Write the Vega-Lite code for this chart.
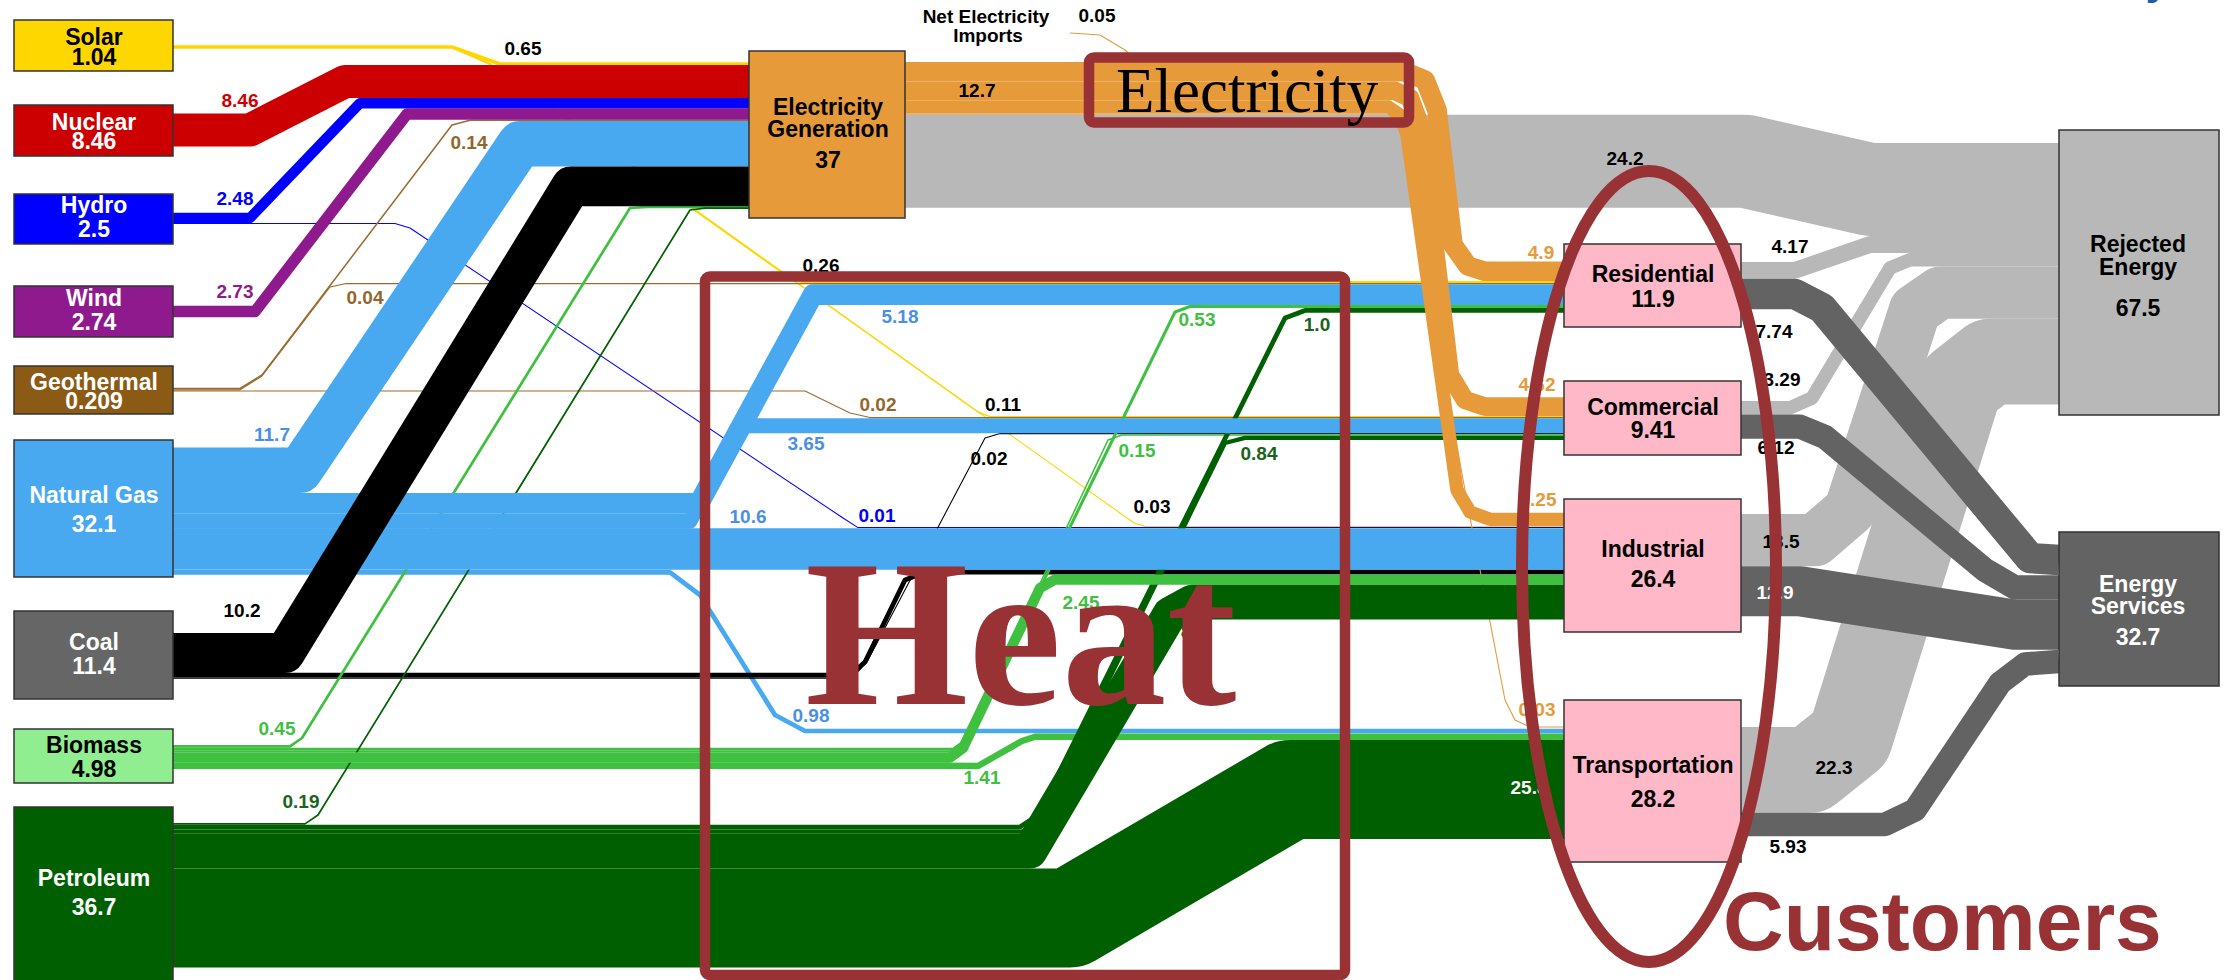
{
  "$schema": "https://vega.github.io/schema/vega-lite/v6.json",
  "width": 2224,
  "height": 980,
  "padding": 0,
  "autosize": {"type": "none"},
  "background": "#FFFFFF",
  "config": {"view": {"stroke": null}},
  "datasets": {
    "flows": [
      {"f":"F01","c":"Solar","v":0.65,"i":0,"x":173,"y":47},{"f":"F01","c":"Solar","v":0.65,"i":1,"x":452,"y":47},{"f":"F01","c":"Solar","v":0.65,"i":2,"x":500,"y":64},{"f":"F01","c":"Solar","v":0.65,"i":3,"x":749,"y":64},
      {"f":"F02","c":"Solar","v":0.26,"i":0,"x":173,"y":47},{"f":"F02","c":"Solar","v":0.26,"i":1,"x":452,"y":47},{"f":"F02","c":"Solar","v":0.26,"i":2,"x":490,"y":64},{"f":"F02","c":"Solar","v":0.26,"i":3,"x":790,"y":278},{"f":"F02","c":"Solar","v":0.26,"i":4,"x":802,"y":282.1},{"f":"F02","c":"Solar","v":0.26,"i":5,"x":1564,"y":282.1},
      {"f":"F03","c":"Solar","v":0.11,"i":0,"x":173,"y":47},{"f":"F03","c":"Solar","v":0.11,"i":1,"x":452,"y":47},{"f":"F03","c":"Solar","v":0.11,"i":2,"x":490,"y":64},{"f":"F03","c":"Solar","v":0.11,"i":3,"x":978,"y":412},{"f":"F03","c":"Solar","v":0.11,"i":4,"x":990,"y":416.6},{"f":"F03","c":"Solar","v":0.11,"i":5,"x":1564,"y":416.6},
      {"f":"F04","c":"Solar","v":0.03,"i":0,"x":173,"y":47},{"f":"F04","c":"Solar","v":0.03,"i":1,"x":452,"y":47},{"f":"F04","c":"Solar","v":0.03,"i":2,"x":490,"y":64},{"f":"F04","c":"Solar","v":0.03,"i":3,"x":1134,"y":523},{"f":"F04","c":"Solar","v":0.03,"i":4,"x":1146,"y":526.6},{"f":"F04","c":"Solar","v":0.03,"i":5,"x":1564,"y":526.6},
      {"f":"F05","c":"Nuclear","v":8.46,"i":0,"x":173,"y":130},{"f":"F05","c":"Nuclear","v":8.46,"i":1,"x":250,"y":130},{"f":"F05","c":"Nuclear","v":8.46,"i":2,"x":345,"y":81.5},{"f":"F05","c":"Nuclear","v":8.46,"i":3,"x":749,"y":81.5},
      {"f":"F06","c":"Hydro","v":2.48,"i":0,"x":173,"y":218},{"f":"F06","c":"Hydro","v":2.48,"i":1,"x":250,"y":218},{"f":"F06","c":"Hydro","v":2.48,"i":2,"x":360,"y":103.2},{"f":"F06","c":"Hydro","v":2.48,"i":3,"x":749,"y":103.2},
      {"f":"F07","c":"Hydro","v":0.01,"i":0,"x":173,"y":223.5},{"f":"F07","c":"Hydro","v":0.01,"i":1,"x":395,"y":223.5},{"f":"F07","c":"Hydro","v":0.01,"i":2,"x":410,"y":228},{"f":"F07","c":"Hydro","v":0.01,"i":3,"x":843,"y":518},{"f":"F07","c":"Hydro","v":0.01,"i":4,"x":858,"y":527.6},{"f":"F07","c":"Hydro","v":0.01,"i":5,"x":1564,"y":527.6},
      {"f":"F08","c":"Wind","v":2.73,"i":0,"x":173,"y":311.5},{"f":"F08","c":"Wind","v":2.73,"i":1,"x":255,"y":311.5},{"f":"F08","c":"Wind","v":2.73,"i":2,"x":407,"y":114},{"f":"F08","c":"Wind","v":2.73,"i":3,"x":749,"y":114},
      {"f":"F09","c":"Geothermal","v":0.14,"i":0,"x":173,"y":388.5},{"f":"F09","c":"Geothermal","v":0.14,"i":1,"x":240,"y":388.5},{"f":"F09","c":"Geothermal","v":0.14,"i":2,"x":262,"y":375},{"f":"F09","c":"Geothermal","v":0.14,"i":3,"x":452,"y":125},{"f":"F09","c":"Geothermal","v":0.14,"i":4,"x":470,"y":120.3},{"f":"F09","c":"Geothermal","v":0.14,"i":5,"x":749,"y":120.3},
      {"f":"F10","c":"Geothermal","v":0.04,"i":0,"x":173,"y":389.8},{"f":"F10","c":"Geothermal","v":0.04,"i":1,"x":240,"y":389.8},{"f":"F10","c":"Geothermal","v":0.04,"i":2,"x":262,"y":376},{"f":"F10","c":"Geothermal","v":0.04,"i":3,"x":330,"y":287},{"f":"F10","c":"Geothermal","v":0.04,"i":4,"x":345,"y":283.7},{"f":"F10","c":"Geothermal","v":0.04,"i":5,"x":1564,"y":283.7},
      {"f":"F11","c":"Geothermal","v":0.02,"i":0,"x":173,"y":391},{"f":"F11","c":"Geothermal","v":0.02,"i":1,"x":805,"y":391},{"f":"F11","c":"Geothermal","v":0.02,"i":2,"x":850,"y":413},{"f":"F11","c":"Geothermal","v":0.02,"i":3,"x":870,"y":417.6},{"f":"F11","c":"Geothermal","v":0.02,"i":4,"x":1564,"y":417.6},
      {"f":"F12","c":"Natural Gas","v":11.7,"i":0,"x":173,"y":470.3},{"f":"F12","c":"Natural Gas","v":11.7,"i":1,"x":300,"y":470.3},{"f":"F12","c":"Natural Gas","v":11.7,"i":2,"x":520,"y":143.8},{"f":"F12","c":"Natural Gas","v":11.7,"i":3,"x":749,"y":143.8},
      {"f":"F13","c":"Natural Gas","v":5.18,"i":0,"x":173,"y":503.4},{"f":"F13","c":"Natural Gas","v":5.18,"i":1,"x":699,"y":503.4},{"f":"F13","c":"Natural Gas","v":5.18,"i":2,"x":813,"y":294.6},{"f":"F13","c":"Natural Gas","v":5.18,"i":3,"x":1564,"y":294.6},
      {"f":"F14","c":"Natural Gas","v":3.65,"i":0,"x":173,"y":521.2},{"f":"F14","c":"Natural Gas","v":3.65,"i":1,"x":690,"y":521.2},{"f":"F14","c":"Natural Gas","v":3.65,"i":2,"x":742,"y":425.7},{"f":"F14","c":"Natural Gas","v":3.65,"i":3,"x":1564,"y":425.7},
      {"f":"F15","c":"Natural Gas","v":10.6,"i":0,"x":173,"y":549},{"f":"F15","c":"Natural Gas","v":10.6,"i":1,"x":1564,"y":549},
      {"f":"F16","c":"Natural Gas","v":0.98,"i":0,"x":173,"y":572.3},{"f":"F16","c":"Natural Gas","v":0.98,"i":1,"x":670,"y":572.3},{"f":"F16","c":"Natural Gas","v":0.98,"i":2,"x":700,"y":595},{"f":"F16","c":"Natural Gas","v":0.98,"i":3,"x":775,"y":715},{"f":"F16","c":"Natural Gas","v":0.98,"i":4,"x":805,"y":731},{"f":"F16","c":"Natural Gas","v":0.98,"i":5,"x":1564,"y":731},
      {"f":"F17","c":"Coal","v":10.2,"i":0,"x":173,"y":653},{"f":"F17","c":"Coal","v":10.2,"i":1,"x":285,"y":653},{"f":"F17","c":"Coal","v":10.2,"i":2,"x":571,"y":186.4},{"f":"F17","c":"Coal","v":10.2,"i":3,"x":749,"y":186.4},
      {"f":"F18","c":"Coal","v":1.0,"i":0,"x":173,"y":675.2},{"f":"F18","c":"Coal","v":1.0,"i":1,"x":850,"y":675.2},{"f":"F18","c":"Coal","v":1.0,"i":2,"x":865,"y":662},{"f":"F18","c":"Coal","v":1.0,"i":3,"x":905,"y":580},{"f":"F18","c":"Coal","v":1.0,"i":4,"x":925,"y":572},{"f":"F18","c":"Coal","v":1.0,"i":5,"x":1564,"y":572},
      {"f":"F19","c":"Coal","v":0.02,"i":0,"x":173,"y":678.1},{"f":"F19","c":"Coal","v":0.02,"i":1,"x":852,"y":678.1},{"f":"F19","c":"Coal","v":0.02,"i":2,"x":867,"y":662},{"f":"F19","c":"Coal","v":0.02,"i":3,"x":985,"y":438},{"f":"F19","c":"Coal","v":0.02,"i":4,"x":1000,"y":433.6},{"f":"F19","c":"Coal","v":0.02,"i":5,"x":1564,"y":433.6},
      {"f":"F20","c":"Biomass","v":0.45,"i":0,"x":173,"y":746.4},{"f":"F20","c":"Biomass","v":0.45,"i":1,"x":290,"y":746.4},{"f":"F20","c":"Biomass","v":0.45,"i":2,"x":302,"y":738},{"f":"F20","c":"Biomass","v":0.45,"i":3,"x":630,"y":208},{"f":"F20","c":"Biomass","v":0.45,"i":4,"x":648,"y":206.8},{"f":"F20","c":"Biomass","v":0.45,"i":5,"x":749,"y":206.8},
      {"f":"F21","c":"Biomass","v":0.53,"i":0,"x":173,"y":749.2},{"f":"F21","c":"Biomass","v":0.53,"i":1,"x":953,"y":749.2},{"f":"F21","c":"Biomass","v":0.53,"i":2,"x":966,"y":740},{"f":"F21","c":"Biomass","v":0.53,"i":3,"x":1175,"y":312},{"f":"F21","c":"Biomass","v":0.53,"i":4,"x":1190,"y":306.5},{"f":"F21","c":"Biomass","v":0.53,"i":5,"x":1564,"y":306.5},
      {"f":"F22","c":"Biomass","v":0.15,"i":0,"x":173,"y":751.5},{"f":"F22","c":"Biomass","v":0.15,"i":1,"x":952,"y":751.5},{"f":"F22","c":"Biomass","v":0.15,"i":2,"x":965,"y":742},{"f":"F22","c":"Biomass","v":0.15,"i":3,"x":1108,"y":440},{"f":"F22","c":"Biomass","v":0.15,"i":4,"x":1122,"y":435},{"f":"F22","c":"Biomass","v":0.15,"i":5,"x":1564,"y":435},
      {"f":"F23","c":"Biomass","v":2.45,"i":0,"x":173,"y":757.5},{"f":"F23","c":"Biomass","v":2.45,"i":1,"x":950,"y":757.5},{"f":"F23","c":"Biomass","v":2.45,"i":2,"x":963,"y":748},{"f":"F23","c":"Biomass","v":2.45,"i":3,"x":1040,"y":588},{"f":"F23","c":"Biomass","v":2.45,"i":4,"x":1055,"y":579.6},{"f":"F23","c":"Biomass","v":2.45,"i":5,"x":1564,"y":579.6},
      {"f":"F24","c":"Biomass","v":1.41,"i":0,"x":173,"y":765.8},{"f":"F24","c":"Biomass","v":1.41,"i":1,"x":940,"y":765.8},{"f":"F24","c":"Biomass","v":1.41,"i":2,"x":978,"y":766},{"f":"F24","c":"Biomass","v":1.41,"i":3,"x":1022,"y":741},{"f":"F24","c":"Biomass","v":1.41,"i":4,"x":1035,"y":736.7},{"f":"F24","c":"Biomass","v":1.41,"i":5,"x":1564,"y":736.7},
      {"f":"F25","c":"Petroleum","v":0.19,"i":0,"x":173,"y":823.9},{"f":"F25","c":"Petroleum","v":0.19,"i":1,"x":305,"y":823.9},{"f":"F25","c":"Petroleum","v":0.19,"i":2,"x":318,"y":815},{"f":"F25","c":"Petroleum","v":0.19,"i":3,"x":690,"y":210},{"f":"F25","c":"Petroleum","v":0.19,"i":4,"x":705,"y":208.2},{"f":"F25","c":"Petroleum","v":0.19,"i":5,"x":749,"y":208.2},
      {"f":"F26","c":"Petroleum","v":1.0,"i":0,"x":173,"y":827.1},{"f":"F26","c":"Petroleum","v":1.0,"i":1,"x":1020,"y":827.1},{"f":"F26","c":"Petroleum","v":1.0,"i":2,"x":1038,"y":815},{"f":"F26","c":"Petroleum","v":1.0,"i":3,"x":1285,"y":318},{"f":"F26","c":"Petroleum","v":1.0,"i":4,"x":1305,"y":310.4},{"f":"F26","c":"Petroleum","v":1.0,"i":5,"x":1564,"y":310.4},
      {"f":"F27","c":"Petroleum","v":0.84,"i":0,"x":173,"y":831.6},{"f":"F27","c":"Petroleum","v":0.84,"i":1,"x":1022,"y":831.6},{"f":"F27","c":"Petroleum","v":0.84,"i":2,"x":1040,"y":820},{"f":"F27","c":"Petroleum","v":0.84,"i":3,"x":1225,"y":443},{"f":"F27","c":"Petroleum","v":0.84,"i":4,"x":1245,"y":437.9},{"f":"F27","c":"Petroleum","v":0.84,"i":5,"x":1564,"y":437.9},
      {"f":"F28","c":"Petroleum","v":8.9,"i":0,"x":173,"y":851.1},{"f":"F28","c":"Petroleum","v":8.9,"i":1,"x":1030,"y":851.1},{"f":"F28","c":"Petroleum","v":8.9,"i":2,"x":1170,"y":614},{"f":"F28","c":"Petroleum","v":8.9,"i":3,"x":1192,"y":602.2},{"f":"F28","c":"Petroleum","v":8.9,"i":4,"x":1564,"y":602.2},
      {"f":"F29","c":"Petroleum","v":25.8,"i":0,"x":173,"y":918},{"f":"F29","c":"Petroleum","v":25.8,"i":1,"x":1070,"y":918},{"f":"F29","c":"Petroleum","v":25.8,"i":2,"x":1290,"y":789.5},{"f":"F29","c":"Petroleum","v":25.8,"i":3,"x":1564,"y":789.5},
      {"f":"F30","c":"Electricity","v":4.9,"i":0,"x":905,"y":71.8},{"f":"F30","c":"Electricity","v":4.9,"i":1,"x":1405,"y":71.8},{"f":"F30","c":"Electricity","v":4.9,"i":2,"x":1425,"y":80},{"f":"F30","c":"Electricity","v":4.9,"i":3,"x":1437,"y":110},{"f":"F30","c":"Electricity","v":4.9,"i":4,"x":1453,"y":245},{"f":"F30","c":"Electricity","v":4.9,"i":5,"x":1468,"y":266},{"f":"F30","c":"Electricity","v":4.9,"i":6,"x":1485,"y":271.3},{"f":"F30","c":"Electricity","v":4.9,"i":7,"x":1564,"y":271.3},
      {"f":"F31","c":"Electricity","v":4.62,"i":0,"x":905,"y":90.9},{"f":"F31","c":"Electricity","v":4.62,"i":1,"x":1395,"y":90.9},{"f":"F31","c":"Electricity","v":4.62,"i":2,"x":1410,"y":98},{"f":"F31","c":"Electricity","v":4.62,"i":3,"x":1420,"y":125},{"f":"F31","c":"Electricity","v":4.62,"i":4,"x":1450,"y":375},{"f":"F31","c":"Electricity","v":4.62,"i":5,"x":1465,"y":400},{"f":"F31","c":"Electricity","v":4.62,"i":6,"x":1485,"y":406.6},{"f":"F31","c":"Electricity","v":4.62,"i":7,"x":1564,"y":406.6},
      {"f":"F32","c":"Electricity","v":3.25,"i":0,"x":905,"y":106.9},{"f":"F32","c":"Electricity","v":3.25,"i":1,"x":1388,"y":106.9},{"f":"F32","c":"Electricity","v":3.25,"i":2,"x":1400,"y":115},{"f":"F32","c":"Electricity","v":3.25,"i":3,"x":1407,"y":135},{"f":"F32","c":"Electricity","v":3.25,"i":4,"x":1457,"y":490},{"f":"F32","c":"Electricity","v":3.25,"i":5,"x":1470,"y":512},{"f":"F32","c":"Electricity","v":3.25,"i":6,"x":1490,"y":519.3},{"f":"F32","c":"Electricity","v":3.25,"i":7,"x":1564,"y":519.3},
      {"f":"F33","c":"Electricity","v":0.03,"i":0,"x":905,"y":114.1},{"f":"F33","c":"Electricity","v":0.03,"i":1,"x":1385,"y":114.1},{"f":"F33","c":"Electricity","v":0.03,"i":2,"x":1396,"y":122},{"f":"F33","c":"Electricity","v":0.03,"i":3,"x":1402,"y":140},{"f":"F33","c":"Electricity","v":0.03,"i":4,"x":1468,"y":507},{"f":"F33","c":"Electricity","v":0.03,"i":5,"x":1505,"y":700},{"f":"F33","c":"Electricity","v":0.03,"i":6,"x":1515,"y":720},{"f":"F33","c":"Electricity","v":0.03,"i":7,"x":1530,"y":727},{"f":"F33","c":"Electricity","v":0.03,"i":8,"x":1564,"y":727},
      {"f":"F34","c":"Electricity","v":0.05,"i":0,"x":1070,"y":33},{"f":"F34","c":"Electricity","v":0.05,"i":1,"x":1100,"y":35},{"f":"F34","c":"Electricity","v":0.05,"i":2,"x":1125,"y":50},{"f":"F34","c":"Electricity","v":0.05,"i":3,"x":1140,"y":64},
      {"f":"F35","c":"Rejected Energy","v":24.2,"i":0,"x":905,"y":161.2},{"f":"F35","c":"Rejected Energy","v":24.2,"i":1,"x":1745,"y":161.2},{"f":"F35","c":"Rejected Energy","v":24.2,"i":2,"x":1870,"y":189.5},{"f":"F35","c":"Rejected Energy","v":24.2,"i":3,"x":2059,"y":189.5},
      {"f":"F36","c":"Rejected Energy","v":4.17,"i":0,"x":1741,"y":270.4},{"f":"F36","c":"Rejected Energy","v":4.17,"i":1,"x":1795,"y":270.4},{"f":"F36","c":"Rejected Energy","v":4.17,"i":2,"x":1870,"y":244.5},{"f":"F36","c":"Rejected Energy","v":4.17,"i":3,"x":2059,"y":244.5},
      {"f":"F37","c":"Rejected Energy","v":3.29,"i":0,"x":1741,"y":407.8},{"f":"F37","c":"Rejected Energy","v":3.29,"i":1,"x":1790,"y":407.8},{"f":"F37","c":"Rejected Energy","v":3.29,"i":2,"x":1812,"y":398},{"f":"F37","c":"Rejected Energy","v":3.29,"i":3,"x":1890,"y":268},{"f":"F37","c":"Rejected Energy","v":3.29,"i":4,"x":1910,"y":259.7},{"f":"F37","c":"Rejected Energy","v":3.29,"i":5,"x":2059,"y":259.7},
      {"f":"F38","c":"Rejected Energy","v":13.5,"i":0,"x":1741,"y":540.2},{"f":"F38","c":"Rejected Energy","v":13.5,"i":1,"x":1815,"y":540.2},{"f":"F38","c":"Rejected Energy","v":13.5,"i":2,"x":1850,"y":510},{"f":"F38","c":"Rejected Energy","v":13.5,"i":3,"x":1915,"y":310},{"f":"F38","c":"Rejected Energy","v":13.5,"i":4,"x":1940,"y":292.6},{"f":"F38","c":"Rejected Energy","v":13.5,"i":5,"x":2059,"y":292.6},
      {"f":"F39","c":"Rejected Energy","v":22.3,"i":0,"x":1741,"y":769.9},{"f":"F39","c":"Rejected Energy","v":22.3,"i":1,"x":1810,"y":769.9},{"f":"F39","c":"Rejected Energy","v":22.3,"i":2,"x":1850,"y":738},{"f":"F39","c":"Rejected Energy","v":22.3,"i":3,"x":1960,"y":385},{"f":"F39","c":"Rejected Energy","v":22.3,"i":4,"x":1990,"y":361.6},{"f":"F39","c":"Rejected Energy","v":22.3,"i":5,"x":2059,"y":361.6},
      {"f":"F40","c":"Energy Services","v":7.74,"i":0,"x":1741,"y":294},{"f":"F40","c":"Energy Services","v":7.74,"i":1,"x":1795,"y":294},{"f":"F40","c":"Energy Services","v":7.74,"i":2,"x":1822,"y":308},{"f":"F40","c":"Energy Services","v":7.74,"i":3,"x":2005,"y":528},{"f":"F40","c":"Energy Services","v":7.74,"i":4,"x":2030,"y":558},{"f":"F40","c":"Energy Services","v":7.74,"i":5,"x":2059,"y":560},
      {"f":"F41","c":"Energy Services","v":6.12,"i":0,"x":1741,"y":426.6},{"f":"F41","c":"Energy Services","v":6.12,"i":1,"x":1800,"y":426.6},{"f":"F41","c":"Energy Services","v":6.12,"i":2,"x":1825,"y":437},{"f":"F41","c":"Energy Services","v":6.12,"i":3,"x":1985,"y":570},{"f":"F41","c":"Energy Services","v":6.12,"i":4,"x":2015,"y":587.5},{"f":"F41","c":"Energy Services","v":6.12,"i":5,"x":2059,"y":587.5},
      {"f":"F42","c":"Energy Services","v":12.9,"i":0,"x":1741,"y":591.3},{"f":"F42","c":"Energy Services","v":12.9,"i":1,"x":1800,"y":591.3},{"f":"F42","c":"Energy Services","v":12.9,"i":2,"x":2015,"y":624.7},{"f":"F42","c":"Energy Services","v":12.9,"i":3,"x":2059,"y":624.7},
      {"f":"F43","c":"Energy Services","v":5.93,"i":0,"x":1741,"y":824.4},{"f":"F43","c":"Energy Services","v":5.93,"i":1,"x":1885,"y":824.4},{"f":"F43","c":"Energy Services","v":5.93,"i":2,"x":1915,"y":810},{"f":"F43","c":"Energy Services","v":5.93,"i":3,"x":2000,"y":683},{"f":"F43","c":"Energy Services","v":5.93,"i":4,"x":2025,"y":664},{"f":"F43","c":"Energy Services","v":5.93,"i":5,"x":2059,"y":661.5}
    ],
    "nodes": [
      {"n":"Solar","x":14,"xe":173,"y":20,"ye":71},
      {"n":"Nuclear","x":14,"xe":173,"y":105,"ye":156},
      {"n":"Hydro","x":14,"xe":173,"y":194,"ye":244},
      {"n":"Wind","x":14,"xe":173,"y":286,"ye":337},
      {"n":"Geothermal","x":14,"xe":173,"y":366,"ye":414},
      {"n":"Natural Gas","x":14,"xe":173,"y":440,"ye":577},
      {"n":"Coal","x":14,"xe":173,"y":611,"ye":699},
      {"n":"Biomass","x":14,"xe":173,"y":729,"ye":783},
      {"n":"Petroleum","x":14,"xe":173,"y":807,"ye":990},
      {"n":"Electricity Generation","x":749,"xe":905,"y":51,"ye":218},
      {"n":"Residential","x":1564,"xe":1741,"y":244,"ye":327},
      {"n":"Commercial","x":1564,"xe":1741,"y":381,"ye":455},
      {"n":"Industrial","x":1564,"xe":1741,"y":499,"ye":632},
      {"n":"Transportation","x":1564,"xe":1741,"y":700,"ye":862},
      {"n":"Rejected Energy","x":2059,"xe":2219,"y":130,"ye":415},
      {"n":"Energy Services","x":2059,"xe":2219,"y":532,"ye":686}
    ],
    "flowLabels": [
      {"t":"0.65","x":523,"y":49,"c":"Solar"},
      {"t":"8.46","x":240,"y":101,"c":"Nuclear"},
      {"t":"2.48","x":235,"y":199,"c":"Hydro"},
      {"t":"2.73","x":235,"y":292,"c":"Wind"},
      {"t":"0.14","x":469,"y":143,"c":"Geothermal"},
      {"t":"0.04","x":365,"y":298,"c":"Geothermal"},
      {"t":"11.7","x":272,"y":435,"c":"Natural Gas"},
      {"t":"10.2","x":242,"y":611,"c":"Coal"},
      {"t":"0.45","x":277,"y":729,"c":"Biomass"},
      {"t":"0.19","x":301,"y":802,"c":"Petroleum"},
      {"t":"12.7","x":977,"y":91,"c":"Electricity Generation"},
      {"t":"0.05","x":1097,"y":16,"c":"Electricity Generation"},
      {"t":"24.2","x":1625,"y":159,"c":"Electricity Generation"},
      {"t":"0.26","x":821,"y":266,"c":"Solar"},
      {"t":"5.18","x":900,"y":317,"c":"Natural Gas"},
      {"t":"0.53","x":1197,"y":320,"c":"Biomass"},
      {"t":"1.0","x":1317,"y":325,"c":"Petroleum"},
      {"t":"0.02","x":878,"y":405,"c":"Geothermal"},
      {"t":"0.11","x":1003,"y":405,"c":"Solar"},
      {"t":"3.65","x":806,"y":444,"c":"Natural Gas"},
      {"t":"0.02","x":989,"y":459,"c":"Coal"},
      {"t":"0.15","x":1137,"y":451,"c":"Biomass"},
      {"t":"0.84","x":1259,"y":454,"c":"Petroleum"},
      {"t":"10.6","x":748,"y":517,"c":"Natural Gas"},
      {"t":"0.01","x":877,"y":516,"c":"Hydro"},
      {"t":"0.03","x":1152,"y":507,"c":"Solar"},
      {"t":"2.45","x":1081,"y":603,"c":"Biomass"},
      {"t":"8.9","x":1194,"y":632,"c":"Petroleum"},
      {"t":"0.98","x":811,"y":716,"c":"Natural Gas"},
      {"t":"1.41","x":982,"y":778,"c":"Biomass"},
      {"t":"25.8","x":1529,"y":788,"c":"Petroleum"},
      {"t":"4.9","x":1541,"y":253,"c":"Electricity"},
      {"t":"4.62","x":1537,"y":385,"c":"Electricity"},
      {"t":"3.25","x":1538,"y":500,"c":"Electricity"},
      {"t":"0.03","x":1537,"y":710,"c":"Electricity"},
      {"t":"4.17","x":1790,"y":247,"c":"Rejected Energy"},
      {"t":"7.74","x":1774,"y":332,"c":"Energy Services"},
      {"t":"3.29","x":1782,"y":380,"c":"Rejected Energy"},
      {"t":"6.12","x":1776,"y":448,"c":"Energy Services"},
      {"t":"13.5","x":1781,"y":542,"c":"Rejected Energy"},
      {"t":"12.9","x":1775,"y":593,"c":"Energy Services"},
      {"t":"22.3","x":1834,"y":768,"c":"Rejected Energy"},
      {"t":"5.93","x":1788,"y":847,"c":"Energy Services"}
    ],
    "nodeLabels": [
      {"t":"Solar","n":"Solar","x":94,"y":37.5},{"t":"1.04","n":"Solar","x":94,"y":58},
      {"t":"Nuclear","n":"Nuclear","x":94,"y":122.5},{"t":"8.46","n":"Nuclear","x":94,"y":142},
      {"t":"Hydro","n":"Hydro","x":94,"y":206},{"t":"2.5","n":"Hydro","x":94,"y":230},
      {"t":"Wind","n":"Wind","x":94,"y":299},{"t":"2.74","n":"Wind","x":94,"y":322.5},
      {"t":"Geothermal","n":"Geothermal","x":94,"y":382.5},{"t":"0.209","n":"Geothermal","x":94,"y":402},
      {"t":"Natural Gas","n":"Natural Gas","x":94,"y":496},{"t":"32.1","n":"Natural Gas","x":94,"y":525},
      {"t":"Coal","n":"Coal","x":94,"y":643},{"t":"11.4","n":"Coal","x":94,"y":667},
      {"t":"Biomass","n":"Biomass","x":94,"y":746},{"t":"4.98","n":"Biomass","x":94,"y":770},
      {"t":"Petroleum","n":"Petroleum","x":94,"y":879},{"t":"36.7","n":"Petroleum","x":94,"y":908},
      {"t":"Electricity","n":"Electricity Generation","x":828,"y":108},{"t":"Generation","n":"Electricity Generation","x":828,"y":129.5},{"t":"37","n":"Electricity Generation","x":828,"y":161},
      {"t":"Residential","n":"Residential","x":1653,"y":274.5},{"t":"11.9","n":"Residential","x":1653,"y":299.5},
      {"t":"Commercial","n":"Commercial","x":1653,"y":407.5},{"t":"9.41","n":"Commercial","x":1653,"y":430.5},
      {"t":"Industrial","n":"Industrial","x":1653,"y":549.5},{"t":"26.4","n":"Industrial","x":1653,"y":579.5},
      {"t":"Transportation","n":"Transportation","x":1653,"y":765.5},{"t":"28.2","n":"Transportation","x":1653,"y":800},
      {"t":"Rejected","n":"Rejected Energy","x":2138,"y":245},{"t":"Energy","n":"Rejected Energy","x":2138,"y":267.5},{"t":"67.5","n":"Rejected Energy","x":2138,"y":308.5},
      {"t":"Energy","n":"Energy Services","x":2138,"y":584.5},{"t":"Services","n":"Energy Services","x":2138,"y":606.5},{"t":"32.7","n":"Energy Services","x":2138,"y":637.5},
      {"t":"Net Electricity","n":"Net Electricity Imports","x":986,"y":17},{"t":"Imports","n":"Net Electricity Imports","x":988,"y":36}
    ]
  },
  "encoding": {
    "x": {"field": "x", "type": "quantitative", "scale": {"domain": [0, 2224], "nice": false, "zero": false}, "axis": null},
    "y": {"field": "y", "type": "quantitative", "scale": {"domain": [0, 980], "nice": false, "zero": false, "reverse": true}, "axis": null}
  },
  "layer": [
    {
      "data": {"name": "flows"},
      "transform": [{"filter": "datum.v < 2"}],
      "mark": {"type": "line", "strokeJoin": "round", "strokeCap": "butt"},
      "encoding": {
        "detail": {"field": "f"},
        "order": {"field": "i", "type": "quantitative"},
        "stroke": {"field": "c", "type": "nominal", "legend": null, "scale": {"domain": ["Solar","Nuclear","Hydro","Wind","Geothermal","Natural Gas","Coal","Biomass","Petroleum","Electricity","Rejected Energy","Energy Services"], "range": ["#FFD700","#CC0000","#0000FF","#8E1A8E","#9A6A30","#48A8F0","#000000","#40C040","#005F00","#E69A3A","#B8B8B8","#636363"]}},
        "size": {"field": "v", "type": "quantitative", "legend": null, "scale": {"domain": [0, 100], "range": [1, 381]}}
      }
    },
    {
      "data": {"name": "flows"},
      "transform": [{"filter": "datum.v >= 2 && datum.c === 'Rejected Energy'"}],
      "mark": {"type": "line", "strokeJoin": "round", "strokeCap": "butt"},
      "encoding": {
        "detail": {"field": "f"},
        "order": {"field": "i", "type": "quantitative"},
        "stroke": {"field": "c", "type": "nominal", "legend": null, "scale": {"domain": ["Solar","Nuclear","Hydro","Wind","Geothermal","Natural Gas","Coal","Biomass","Petroleum","Electricity","Rejected Energy","Energy Services"], "range": ["#FFD700","#CC0000","#0000FF","#8E1A8E","#9A6A30","#48A8F0","#000000","#40C040","#005F00","#E69A3A","#B8B8B8","#636363"]}},
        "size": {"field": "v", "type": "quantitative", "legend": null, "scale": {"domain": [0, 100], "range": [1, 381]}}
      }
    },
    {
      "data": {"name": "flows"},
      "transform": [{"filter": "datum.v >= 2 && datum.c !== 'Rejected Energy' && datum.c !== 'Energy Services'"}],
      "mark": {"type": "line", "strokeJoin": "round", "strokeCap": "butt"},
      "encoding": {
        "detail": {"field": "f"},
        "order": {"field": "i", "type": "quantitative"},
        "stroke": {"field": "c", "type": "nominal", "legend": null, "scale": {"domain": ["Solar","Nuclear","Hydro","Wind","Geothermal","Natural Gas","Coal","Biomass","Petroleum","Electricity","Rejected Energy","Energy Services"], "range": ["#FFD700","#CC0000","#0000FF","#8E1A8E","#9A6A30","#48A8F0","#000000","#40C040","#005F00","#E69A3A","#B8B8B8","#636363"]}},
        "size": {"field": "v", "type": "quantitative", "legend": null, "scale": {"domain": [0, 100], "range": [1, 381]}}
      }
    },
    {
      "data": {"name": "flows"},
      "transform": [{"filter": "datum.c === 'Energy Services'"}],
      "mark": {"type": "line", "strokeJoin": "round", "strokeCap": "butt"},
      "encoding": {
        "detail": {"field": "f"},
        "order": {"field": "i", "type": "quantitative"},
        "stroke": {"field": "c", "type": "nominal", "legend": null, "scale": {"domain": ["Solar","Nuclear","Hydro","Wind","Geothermal","Natural Gas","Coal","Biomass","Petroleum","Electricity","Rejected Energy","Energy Services"], "range": ["#FFD700","#CC0000","#0000FF","#8E1A8E","#9A6A30","#48A8F0","#000000","#40C040","#005F00","#E69A3A","#B8B8B8","#636363"]}},
        "size": {"field": "v", "type": "quantitative", "legend": null, "scale": {"domain": [0, 100], "range": [1, 381]}}
      }
    },
    {
      "data": {"name": "nodes"},
      "mark": {"type": "rect", "stroke": "#333333", "strokeWidth": 1.5},
      "encoding": {
        "x2": {"field": "xe"},
        "y2": {"field": "ye"},
        "fill": {"field": "n", "type": "nominal", "legend": null, "scale": {"domain": ["Solar","Nuclear","Hydro","Wind","Geothermal","Natural Gas","Coal","Biomass","Petroleum","Electricity Generation","Residential","Commercial","Industrial","Transportation","Rejected Energy","Energy Services"], "range": ["#FFD700","#CC0000","#0000FF","#8E1A8E","#8B5A14","#48A8F0","#666666","#90EE90","#005F00","#E69A3A","#FFB8C8","#FFB8C8","#FFB8C8","#FFB8C8","#B8B8B8","#636363"]}}
      }
    },
    {
      "data": {"name": "flowLabels"},
      "mark": {"type": "text", "font": "Liberation Sans", "fontWeight": "bold", "fontSize": 19, "align": "center", "baseline": "middle"},
      "encoding": {
        "text": {"field": "t"},
        "color": {"condition": {"test": "datum.t === '12.9' || datum.t === '25.8'", "value": "#FFFFFF"}, "field": "c", "type": "nominal", "legend": null, "scale": {"domain": ["Solar","Nuclear","Hydro","Wind","Geothermal","Natural Gas","Coal","Biomass","Petroleum","Electricity","Electricity Generation","Rejected Energy","Energy Services"], "range": ["#000000","#CC0000","#0000FF","#8E1A8E","#94662A","#4A8FE6","#000000","#40C040","#1B631B","#E69A3A","#000000","#000000","#000000"]}}
      }
    },
    {
      "data": {"name": "nodeLabels"},
      "mark": {"type": "text", "font": "Liberation Sans", "fontWeight": "bold", "align": "center", "baseline": "middle"},
      "encoding": {
        "text": {"field": "t"},
        "size": {"condition": {"test": "datum.n === 'Net Electricity Imports'", "value": 19}, "value": 23},
        "color": {"condition": {"test": "indexof(['Nuclear','Hydro','Wind','Geothermal','Natural Gas','Coal','Petroleum','Energy Services'], datum.n) >= 0", "value": "#FFFFFF"}, "value": "#000000"}
      }
    },
    {
      "data": {"values": [{"x": 1089, "xe": 1409, "y": 57.5, "ye": 122.5}, {"x": 705, "xe": 1345, "y": 276.5, "ye": 975}]},
      "mark": {"type": "rect", "filled": false, "stroke": "#983234", "strokeWidth": 10.5, "cornerRadius": 5, "opacity": 1},
      "encoding": {"x2": {"field": "xe"}, "y2": {"field": "ye"}}
    },
    {
      "data": {"values": [{"t": "Electricity", "x": 1116, "y": 112}]},
      "mark": {"type": "text", "font": "Liberation Serif", "fontSize": 63, "align": "left", "baseline": "alphabetic", "color": "#000000"},
      "encoding": {"text": {"field": "t"}}
    },
    {
      "data": {"values": [{"t": "Heat", "x": 805, "y": 704}]},
      "mark": {"type": "text", "font": "Liberation Serif", "fontWeight": "bold", "fontSize": 210, "align": "left", "baseline": "alphabetic", "color": "#983234"},
      "encoding": {"text": {"field": "t"}}
    },
    {
      "data": {"values": [{"t": "Customers", "x": 1723, "y": 950}]},
      "mark": {"type": "text", "font": "Liberation Sans", "fontWeight": "bold", "fontSize": 84, "align": "left", "baseline": "alphabetic", "color": "#983234"},
      "encoding": {"text": {"field": "t"}}
    },
    {
      "data": {"values": [{"t": "Laboratory", "x": 2170, "y": -6}]},
      "mark": {"type": "text", "font": "Liberation Sans", "fontWeight": "bold", "fontSize": 44, "align": "right", "baseline": "alphabetic", "color": "#1F5CAA"},
      "encoding": {"text": {"field": "t"}}
    },
    {
      "data": {"values": [{"x": 1649, "y": 566.5}]},
      "mark": {"type": "point", "shape": "M0,-1C0.1773,-1,0.3211,-0.5523,0.3211,0C0.3211,0.5523,0.1773,1,0,1C-0.1773,1,-0.3211,0.5523,-0.3211,0C-0.3211,-0.5523,-0.1773,-1,0,-1Z", "size": 625681, "filled": false, "stroke": "#983234", "strokeWidth": 12, "opacity": 1}
    }
  ]
}
